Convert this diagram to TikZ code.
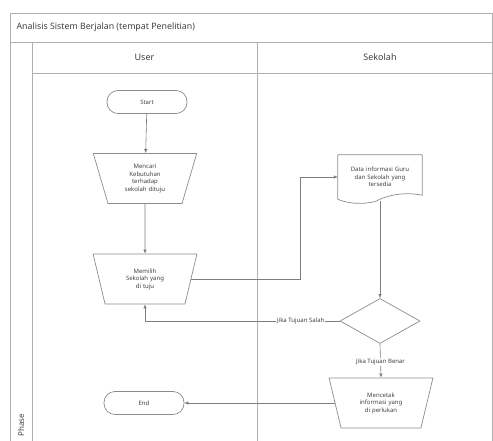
\documentclass[tikz,border=0pt]{standalone}
\usepackage{fontspec}
\setmainfont{Noto Sans}
\usetikzlibrary{shapes.geometric,arrows.meta,calc}
\definecolor{ln}{HTML}{8C8C8C}
\definecolor{tx}{HTML}{404040}
\begin{document}
\begin{tikzpicture}[x=1pt,y=-1pt,
  frame/.style={draw=ln!70,line width=0.8pt},
  small/.style={font=\fontsize{6}{7.5}\selectfont,text=tx},
  term/.style={draw=ln,line width=0.7pt,rounded corners=11pt,minimum width=80pt,minimum height=23pt,small},
  proc/.style={draw=ln,line width=0.7pt,trapezium,shape border rotate=180,trapezium stretches=true,
     minimum width=104pt,minimum height=50pt,trapezium angle=68,small,inner sep=1pt,text width=60pt,align=center},
  dec/.style={draw=ln,line width=0.7pt,diamond,minimum width=80pt,minimum height=45pt,inner sep=0pt,aspect=1.8},
  arr/.style={draw=ln!90!black,line width=0.6pt,-{Latex[length=4pt,width=3.5pt]}},
  lbl/.style={small,fill=white,inner sep=1pt}
]
\useasboundingbox (0,0) rectangle (493,441);
% frame and lanes
\draw[frame] (10,441) -- (10,13) -- (492.5,13) -- (492.5,441);
\draw[frame] (10,42) -- (492.5,42);
\draw[frame] (32,73) -- (492.5,73);
\draw[frame] (32,42) -- (32,441);
\draw[frame] (257,42) -- (257,441);
\node[anchor=west,font=\fontsize{8.8}{11}\selectfont,text=tx] (title) at (13,27.5) {Analisis Sistem Berjalan (tempat Penelitian)};
\node[font=\fontsize{9}{11}\selectfont,text=tx] (user) at (144.5,57.5) {User};
\node[font=\fontsize{9}{11}\selectfont,text=tx] (sek) at (380,57.5) {Sekolah};
\node[rotate=90,anchor=west,font=\fontsize{8}{10}\selectfont,text=tx] (phase) at (21,440) {Phase};
% nodes
\node[term] (start) at (147,102) {Start};
\node[proc] (p1) at (145,178.5) {Mencari\\Kebutuhan\\terhadap\\sekolah dituju};
\node[proc] (p2) at (145,279) {Memilih\\Sekolah yang\\di tuju};
\node[minimum width=84pt,minimum height=44pt,small,inner sep=1pt,text width=76pt,align=center] (doc) at (380,177) {Data informasi Guru\\dan Sekolah yang\\tersedia};
\draw[draw=ln,line width=0.7pt] (doc.south west) -- (doc.north west) -- (doc.north east) -- ($(doc.south east)+(0,-4)$)
  .. controls ($(doc.south east)+(-20,-8)$) and ($(doc.south)+(5,-3)$) .. ($(doc.south)+(-4,2)$)
  .. controls ($(doc.south west)+(25,6)$) and ($(doc.south west)+(8,4)$) .. (doc.south west);
\node[dec] (dec) at (380,321) {};
\node[proc] (p3) at (381,403) {Mencetak\\informasi yang\\di perlukan};
\node[term] (end) at (144,403) {End};
\coordinate (k1) at (300,0);
% connectors
\draw[arr] (start) -- (p1);
\draw[arr] (p1) -- (p2);
\draw[arr] (p2.east) -- (p2.east -| k1) -- (k1 |- doc.west) -- (doc.west);
\draw[arr] ($(doc.south)+(0,2)$) -- (dec.north);
\draw[arr] (dec.west) -| node[lbl,pos=0.1] {Jika Tujuan Salah} (p2.south);
\draw[arr] (dec.south) -- node[lbl,pos=0.55] {Jika Tujuan Benar} (p3.north);
\draw[arr] (p3.west) -- (end.east);
\end{tikzpicture}
\end{document}
